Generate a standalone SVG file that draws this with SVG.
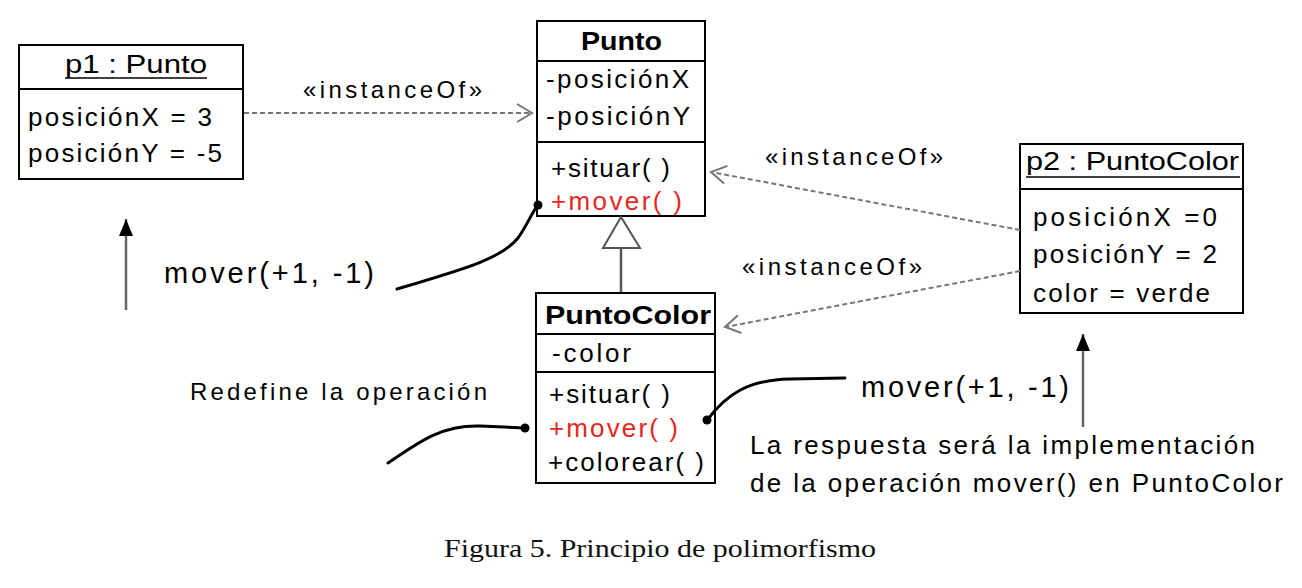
<svg xmlns="http://www.w3.org/2000/svg" width="1302" height="588" viewBox="0 0 1302 588">
<style>
.box{fill:#fff;stroke:#000;stroke-width:2}
.div{stroke:#000;stroke-width:2}
.t{font-family:"Liberation Sans",Arial,sans-serif;font-size:26px;fill:#000}
.b{font-weight:bold}
.red{fill:#e8261c}
.big{font-size:29px}
.lbl{font-size:24px}
.dash{fill:none;stroke:#777;stroke-width:2;stroke-dasharray:5,3}
.up{fill:none;stroke:#666;stroke-width:2.5}
.curve{fill:none;stroke:#000;stroke-width:3;stroke-linecap:round}
.cap{font-family:"Liberation Serif","Times New Roman",serif;font-size:26px;fill:#111}
</style>
<defs>
<marker id="open" markerUnits="userSpaceOnUse" markerWidth="20" markerHeight="24" refX="16" refY="10" orient="auto" viewBox="0 0 20 20">
<path d="M1,1 L16,10 L1,19" fill="none" stroke="#777" stroke-width="2"/>
</marker>
<marker id="filled" markerUnits="userSpaceOnUse" markerWidth="18" markerHeight="16" refX="17" refY="8" orient="auto" viewBox="0 0 18 16">
<path d="M0,1 L17,8 L0,15 z" fill="#000"/>
</marker>
</defs>
<rect width="1302" height="588" fill="#fff"/>

<g id="p1">
<rect class="box" x="19" y="45" width="224" height="134"/>
<line class="div" x1="19" y1="89" x2="243" y2="89"/>
<text class="t" x="65" y="73" textLength="142" lengthAdjust="spacingAndGlyphs">p1 : Punto</text>
<line x1="65" y1="78" x2="207" y2="78" stroke="#000" stroke-width="1.5"/>
<text class="t" x="28" y="126" textLength="184" lengthAdjust="spacing">posiciónX = 3</text>
<text class="t" x="28" y="162" textLength="194" lengthAdjust="spacing">posiciónY = -5</text>
</g>

<g id="Punto">
<rect class="box" x="537" y="21" width="168" height="195"/>
<line class="div" x1="537" y1="61" x2="705" y2="61"/>
<line class="div" x1="537" y1="142" x2="705" y2="142"/>
<text class="t b" x="581" y="50" textLength="81" lengthAdjust="spacingAndGlyphs">Punto</text>
<text class="t" x="546" y="88" textLength="143" lengthAdjust="spacing">-posiciónX</text>
<text class="t" x="546" y="125" textLength="144" lengthAdjust="spacing">-posiciónY</text>
<text class="t" x="551" y="177" textLength="119" lengthAdjust="spacing">+situar( )</text>
<text class="t red" x="551" y="210" textLength="131" lengthAdjust="spacing">+mover( )</text>
</g>

<g id="PuntoColor">
<rect class="box" x="536" y="293" width="179" height="190"/>
<line class="div" x1="536" y1="334" x2="715" y2="334"/>
<line class="div" x1="536" y1="372" x2="715" y2="372"/>
<text class="t b" x="545" y="324" textLength="166" lengthAdjust="spacingAndGlyphs">PuntoColor</text>
<text class="t" x="552" y="362" textLength="79" lengthAdjust="spacing">-color</text>
<text class="t" x="549" y="403" textLength="121" lengthAdjust="spacing">+situar( )</text>
<text class="t red" x="549" y="437" textLength="129" lengthAdjust="spacing">+mover( )</text>
<text class="t" x="548" y="471" textLength="156" lengthAdjust="spacing">+colorear( )</text>
</g>

<g id="p2">
<rect class="box" x="1020" y="144" width="223" height="169"/>
<line class="div" x1="1020" y1="189" x2="1243" y2="189"/>
<text class="t" x="1026" y="170" textLength="213" lengthAdjust="spacingAndGlyphs">p2 : PuntoColor</text>
<line x1="1026" y1="177" x2="1240" y2="177" stroke="#000" stroke-width="1.5"/>
<text class="t" x="1033" y="226" textLength="184" lengthAdjust="spacing">posiciónX =0</text>
<text class="t" x="1033" y="263" textLength="184" lengthAdjust="spacing">posiciónY = 2</text>
<text class="t" x="1033" y="302" textLength="177" lengthAdjust="spacing">color = verde</text>
</g>

<g id="connectors">
<path class="dash" d="M244,113 L532,113" marker-end="url(#open)"/>
<path class="dash" d="M1020,230 L711,172" marker-end="url(#open)"/>
<path class="dash" d="M1020,271 L725,327" marker-end="url(#open)"/>
<line x1="621" y1="248" x2="621" y2="292" stroke="#555" stroke-width="2.5"/>
<polygon points="603,248 621,217 640,248" fill="#fff" stroke="#555" stroke-width="2"/>
<path class="up" d="M126,310 L126,219" marker-end="url(#filled)"/>
<path class="up" d="M1083,427 L1083,334" marker-end="url(#filled)"/>
<path class="curve" d="M397,289 C468,268 502,258 518,238 C528,224 532,212 538,205"/>
<circle cx="538" cy="205" r="4.5" fill="#000"/>
<path class="curve" d="M708,419 C727,394 748,380 790,379 L845,378"/>
<circle cx="707" cy="420" r="4.5" fill="#000"/>
<path class="curve" d="M388,463 C420,441 442,425 480,426 L524,428"/>
<circle cx="525" cy="428" r="4.5" fill="#000"/>
</g>

<g id="labels">
<text class="t lbl" x="303" y="98" textLength="179" lengthAdjust="spacing">«instanceOf»</text>
<text class="t lbl" x="765" y="165" textLength="178" lengthAdjust="spacing">«instanceOf»</text>
<text class="t lbl" x="742" y="275" textLength="180" lengthAdjust="spacing">«instanceOf»</text>
<text class="t big" x="164" y="283" textLength="210" lengthAdjust="spacing">mover(+1, -1)</text>
<text class="t big" x="861" y="397" textLength="208" lengthAdjust="spacing">mover(+1, -1)</text>
<text class="t lbl" x="190" y="400" textLength="297" lengthAdjust="spacing">Redefine la operación</text>
<text class="t" x="750" y="454" textLength="505" lengthAdjust="spacing">La respuesta será la implementación</text>
<text class="t" x="750" y="492" textLength="533" lengthAdjust="spacing">de la operación mover() en PuntoColor</text>
</g>

<text class="cap" x="444" y="557" textLength="432" lengthAdjust="spacingAndGlyphs">Figura 5. Principio de polimorfismo</text>
</svg>
